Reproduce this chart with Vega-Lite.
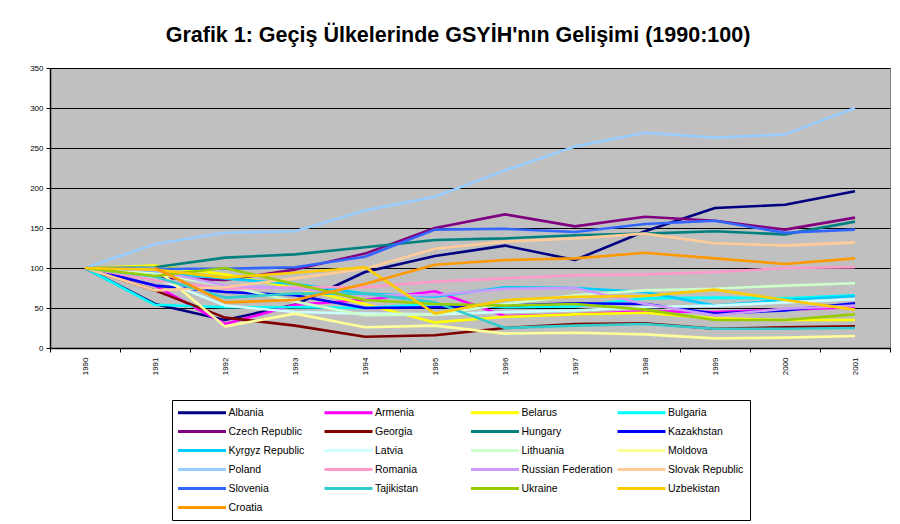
{
 "$schema": "https://vega.github.io/schema/vega-lite/v6.json",
 "width": 840, "height": 280,
 "autosize": {"type": "none"},
 "padding": {"left": 50, "top": 68, "right": 10, "bottom": 176},
 "background": "white",
 "title": {"text": "Grafik 1: Geçiş Ülkelerinde GSYİH'nın Gelişimi (1990:100)", "font": "Liberation Sans", "fontSize": 21.5, "fontWeight": "bold", "color": "black", "anchor": "middle", "dx": -12, "offset": 18},
 "data": {"values": [
{"c":"Albania","y":"1990","v":100},{"c":"Albania","y":"1991","v":55},{"c":"Albania","y":"1992","v":35},{"c":"Albania","y":"1993","v":54},{"c":"Albania","y":"1994","v":95},{"c":"Albania","y":"1995","v":115},{"c":"Albania","y":"1996","v":128},{"c":"Albania","y":"1997","v":110},{"c":"Albania","y":"1998","v":146},{"c":"Albania","y":"1999","v":175},{"c":"Albania","y":"2000","v":179},{"c":"Albania","y":"2001","v":196},
{"c":"Armenia","y":"1990","v":100},{"c":"Armenia","y":"1991","v":78},{"c":"Armenia","y":"1992","v":30},{"c":"Armenia","y":"1993","v":54},{"c":"Armenia","y":"1994","v":60},{"c":"Armenia","y":"1995","v":71},{"c":"Armenia","y":"1996","v":40},{"c":"Armenia","y":"1997","v":42},{"c":"Armenia","y":"1998","v":46},{"c":"Armenia","y":"1999","v":45},{"c":"Armenia","y":"2000","v":48},{"c":"Armenia","y":"2001","v":51},
{"c":"Belarus","y":"1990","v":100},{"c":"Belarus","y":"1991","v":103},{"c":"Belarus","y":"1992","v":92},{"c":"Belarus","y":"1993","v":75},{"c":"Belarus","y":"1994","v":55},{"c":"Belarus","y":"1995","v":32},{"c":"Belarus","y":"1996","v":39},{"c":"Belarus","y":"1997","v":42},{"c":"Belarus","y":"1998","v":44},{"c":"Belarus","y":"1999","v":37},{"c":"Belarus","y":"2000","v":35},{"c":"Belarus","y":"2001","v":35},
{"c":"Bulgaria","y":"1990","v":100},{"c":"Bulgaria","y":"1991","v":54},{"c":"Bulgaria","y":"1992","v":51},{"c":"Bulgaria","y":"1993","v":51},{"c":"Bulgaria","y":"1994","v":50},{"c":"Bulgaria","y":"1995","v":55},{"c":"Bulgaria","y":"1996","v":51},{"c":"Bulgaria","y":"1997","v":52},{"c":"Bulgaria","y":"1998","v":62},{"c":"Bulgaria","y":"1999","v":63},{"c":"Bulgaria","y":"2000","v":62},{"c":"Bulgaria","y":"2001","v":66},
{"c":"Czech Republic","y":"1990","v":100},{"c":"Czech Republic","y":"1991","v":88},{"c":"Czech Republic","y":"1992","v":85},{"c":"Czech Republic","y":"1993","v":98},{"c":"Czech Republic","y":"1994","v":118},{"c":"Czech Republic","y":"1995","v":150},{"c":"Czech Republic","y":"1996","v":167},{"c":"Czech Republic","y":"1997","v":152},{"c":"Czech Republic","y":"1998","v":164},{"c":"Czech Republic","y":"1999","v":159},{"c":"Czech Republic","y":"2000","v":148},{"c":"Czech Republic","y":"2001","v":163},
{"c":"Georgia","y":"1990","v":100},{"c":"Georgia","y":"1991","v":72},{"c":"Georgia","y":"1992","v":38},{"c":"Georgia","y":"1993","v":28},{"c":"Georgia","y":"1994","v":14},{"c":"Georgia","y":"1995","v":16},{"c":"Georgia","y":"1996","v":25},{"c":"Georgia","y":"1997","v":30},{"c":"Georgia","y":"1998","v":31},{"c":"Georgia","y":"1999","v":24},{"c":"Georgia","y":"2000","v":26},{"c":"Georgia","y":"2001","v":27},
{"c":"Hungary","y":"1990","v":100},{"c":"Hungary","y":"1991","v":101},{"c":"Hungary","y":"1992","v":113},{"c":"Hungary","y":"1993","v":117},{"c":"Hungary","y":"1994","v":126},{"c":"Hungary","y":"1995","v":135},{"c":"Hungary","y":"1996","v":137},{"c":"Hungary","y":"1997","v":141},{"c":"Hungary","y":"1998","v":143},{"c":"Hungary","y":"1999","v":146},{"c":"Hungary","y":"2000","v":142},{"c":"Hungary","y":"2001","v":158},
{"c":"Kazakhstan","y":"1990","v":100},{"c":"Kazakhstan","y":"1991","v":78},{"c":"Kazakhstan","y":"1992","v":70},{"c":"Kazakhstan","y":"1993","v":66},{"c":"Kazakhstan","y":"1994","v":50},{"c":"Kazakhstan","y":"1995","v":51},{"c":"Kazakhstan","y":"1996","v":53},{"c":"Kazakhstan","y":"1997","v":56},{"c":"Kazakhstan","y":"1998","v":55},{"c":"Kazakhstan","y":"1999","v":43},{"c":"Kazakhstan","y":"2000","v":47},{"c":"Kazakhstan","y":"2001","v":56},
{"c":"Kyrgyz Republic","y":"1990","v":100},{"c":"Kyrgyz Republic","y":"1991","v":95},{"c":"Kyrgyz Republic","y":"1992","v":87},{"c":"Kyrgyz Republic","y":"1993","v":80},{"c":"Kyrgyz Republic","y":"1994","v":68},{"c":"Kyrgyz Republic","y":"1995","v":64},{"c":"Kyrgyz Republic","y":"1996","v":76},{"c":"Kyrgyz Republic","y":"1997","v":75},{"c":"Kyrgyz Republic","y":"1998","v":70},{"c":"Kyrgyz Republic","y":"1999","v":53},{"c":"Kyrgyz Republic","y":"2000","v":60},{"c":"Kyrgyz Republic","y":"2001","v":65},
{"c":"Latvia","y":"1990","v":100},{"c":"Latvia","y":"1991","v":88},{"c":"Latvia","y":"1992","v":53},{"c":"Latvia","y":"1993","v":45},{"c":"Latvia","y":"1994","v":43},{"c":"Latvia","y":"1995","v":42},{"c":"Latvia","y":"1996","v":45},{"c":"Latvia","y":"1997","v":47},{"c":"Latvia","y":"1998","v":51},{"c":"Latvia","y":"1999","v":53},{"c":"Latvia","y":"2000","v":57},{"c":"Latvia","y":"2001","v":61},
{"c":"Lithuania","y":"1990","v":100},{"c":"Lithuania","y":"1991","v":93},{"c":"Lithuania","y":"1992","v":78},{"c":"Lithuania","y":"1993","v":58},{"c":"Lithuania","y":"1994","v":41},{"c":"Lithuania","y":"1995","v":42},{"c":"Lithuania","y":"1996","v":55},{"c":"Lithuania","y":"1997","v":66},{"c":"Lithuania","y":"1998","v":72},{"c":"Lithuania","y":"1999","v":74},{"c":"Lithuania","y":"2000","v":78},{"c":"Lithuania","y":"2001","v":81},
{"c":"Moldova","y":"1990","v":100},{"c":"Moldova","y":"1991","v":100},{"c":"Moldova","y":"1992","v":27},{"c":"Moldova","y":"1993","v":43},{"c":"Moldova","y":"1994","v":26},{"c":"Moldova","y":"1995","v":28},{"c":"Moldova","y":"1996","v":18},{"c":"Moldova","y":"1997","v":19},{"c":"Moldova","y":"1998","v":17},{"c":"Moldova","y":"1999","v":12},{"c":"Moldova","y":"2000","v":13},{"c":"Moldova","y":"2001","v":15},
{"c":"Poland","y":"1990","v":100},{"c":"Poland","y":"1991","v":130},{"c":"Poland","y":"1992","v":144},{"c":"Poland","y":"1993","v":146},{"c":"Poland","y":"1994","v":172},{"c":"Poland","y":"1995","v":189},{"c":"Poland","y":"1996","v":222},{"c":"Poland","y":"1997","v":252},{"c":"Poland","y":"1998","v":269},{"c":"Poland","y":"1999","v":263},{"c":"Poland","y":"2000","v":267},{"c":"Poland","y":"2001","v":300},
{"c":"Romania","y":"1990","v":100},{"c":"Romania","y":"1991","v":85},{"c":"Romania","y":"1992","v":74},{"c":"Romania","y":"1993","v":76},{"c":"Romania","y":"1994","v":76},{"c":"Romania","y":"1995","v":83},{"c":"Romania","y":"1996","v":87},{"c":"Romania","y":"1997","v":91},{"c":"Romania","y":"1998","v":92},{"c":"Romania","y":"1999","v":95},{"c":"Romania","y":"2000","v":100},{"c":"Romania","y":"2001","v":101},
{"c":"Russian Federation","y":"1990","v":100},{"c":"Russian Federation","y":"1991","v":97},{"c":"Russian Federation","y":"1992","v":78},{"c":"Russian Federation","y":"1993","v":74},{"c":"Russian Federation","y":"1994","v":66},{"c":"Russian Federation","y":"1995","v":66},{"c":"Russian Federation","y":"1996","v":74},{"c":"Russian Federation","y":"1997","v":75},{"c":"Russian Federation","y":"1998","v":55},{"c":"Russian Federation","y":"1999","v":41},{"c":"Russian Federation","y":"2000","v":49},{"c":"Russian Federation","y":"2001","v":53},
{"c":"Slovak Republic","y":"1990","v":100},{"c":"Slovak Republic","y":"1991","v":72},{"c":"Slovak Republic","y":"1992","v":76},{"c":"Slovak Republic","y":"1993","v":87},{"c":"Slovak Republic","y":"1994","v":99},{"c":"Slovak Republic","y":"1995","v":124},{"c":"Slovak Republic","y":"1996","v":133},{"c":"Slovak Republic","y":"1997","v":137},{"c":"Slovak Republic","y":"1998","v":143},{"c":"Slovak Republic","y":"1999","v":131},{"c":"Slovak Republic","y":"2000","v":128},{"c":"Slovak Republic","y":"2001","v":132},
{"c":"Slovenia","y":"1990","v":100},{"c":"Slovenia","y":"1991","v":99},{"c":"Slovenia","y":"1992","v":99},{"c":"Slovenia","y":"1993","v":101},{"c":"Slovenia","y":"1994","v":114},{"c":"Slovenia","y":"1995","v":148},{"c":"Slovenia","y":"1996","v":149},{"c":"Slovenia","y":"1997","v":145},{"c":"Slovenia","y":"1998","v":155},{"c":"Slovenia","y":"1999","v":159},{"c":"Slovenia","y":"2000","v":144},{"c":"Slovenia","y":"2001","v":148},
{"c":"Tajikistan","y":"1990","v":100},{"c":"Tajikistan","y":"1991","v":89},{"c":"Tajikistan","y":"1992","v":63},{"c":"Tajikistan","y":"1993","v":68},{"c":"Tajikistan","y":"1994","v":68},{"c":"Tajikistan","y":"1995","v":57},{"c":"Tajikistan","y":"1996","v":25},{"c":"Tajikistan","y":"1997","v":28},{"c":"Tajikistan","y":"1998","v":30},{"c":"Tajikistan","y":"1999","v":24},{"c":"Tajikistan","y":"2000","v":24},{"c":"Tajikistan","y":"2001","v":25},
{"c":"Ukraine","y":"1990","v":100},{"c":"Ukraine","y":"1991","v":90},{"c":"Ukraine","y":"1992","v":100},{"c":"Ukraine","y":"1993","v":80},{"c":"Ukraine","y":"1994","v":60},{"c":"Ukraine","y":"1995","v":55},{"c":"Ukraine","y":"1996","v":53},{"c":"Ukraine","y":"1997","v":55},{"c":"Ukraine","y":"1998","v":48},{"c":"Ukraine","y":"1999","v":35},{"c":"Ukraine","y":"2000","v":35},{"c":"Ukraine","y":"2001","v":42},
{"c":"Uzbekistan","y":"1990","v":100},{"c":"Uzbekistan","y":"1991","v":98},{"c":"Uzbekistan","y":"1992","v":88},{"c":"Uzbekistan","y":"1993","v":94},{"c":"Uzbekistan","y":"1994","v":101},{"c":"Uzbekistan","y":"1995","v":43},{"c":"Uzbekistan","y":"1996","v":60},{"c":"Uzbekistan","y":"1997","v":64},{"c":"Uzbekistan","y":"1998","v":65},{"c":"Uzbekistan","y":"1999","v":73},{"c":"Uzbekistan","y":"2000","v":60},{"c":"Uzbekistan","y":"2001","v":48},
{"c":"Croatia","y":"1991","v":100},{"c":"Croatia","y":"1992","v":57},{"c":"Croatia","y":"1993","v":60},{"c":"Croatia","y":"1994","v":80},{"c":"Croatia","y":"1995","v":104},{"c":"Croatia","y":"1996","v":110},{"c":"Croatia","y":"1997","v":112},{"c":"Croatia","y":"1998","v":119},{"c":"Croatia","y":"1999","v":112},{"c":"Croatia","y":"2000","v":105},{"c":"Croatia","y":"2001","v":112}
 ]},
 "mark": {"type": "line", "strokeWidth": 2.6, "strokeJoin": "round"},
 "encoding": {
  "x": {"field": "y", "type": "ordinal", "bandPosition": 0.5,
        "scale": {"type": "band", "paddingInner": 0, "paddingOuter": 0,
                  "domain": ["1990","1991","1992","1993","1994","1995","1996","1997","1998","1999","2000","2001"]},
        "axis": {"title": null, "labelAngle": -90, "labelFont": "Liberation Sans", "labelFontSize": 8, "labelColor": "black",
                 "tickBand": "extent", "tickColor": "black", "tickSize": 4, "domainColor": "black", "domainWidth": 1.5, "labelPadding": 5, "grid": false}},
  "y": {"field": "v", "type": "quantitative",
        "scale": {"domain": [0, 350], "nice": false, "zero": true},
        "axis": {"title": null, "values": [0,50,100,150,200,250,300,350], "labelFont": "Liberation Sans", "labelFontSize": 8, "labelColor": "black",
                 "tickColor": "black", "tickSize": 4, "domainColor": "black", "domainWidth": 1.5, "labelPadding": 3,
                 "grid": true, "gridColor": "black", "gridWidth": 1}},
  "color": {"field": "c", "type": "nominal",
   "scale": {"domain": ["Albania","Armenia","Belarus","Bulgaria","Czech Republic","Georgia","Hungary","Kazakhstan","Kyrgyz Republic","Latvia","Lithuania","Moldova","Poland","Romania","Russian Federation","Slovak Republic","Slovenia","Tajikistan","Ukraine","Uzbekistan","Croatia"],
             "range": ["#000080","#FF00FF","#FFFF00","#00FFFF","#800080","#800000","#008080","#0000FF","#00CCFF","#CCFFFF","#CCFFCC","#FFFF99","#99CCFF","#FF99CC","#CC99FF","#FFCC99","#3366FF","#33CCCC","#99CC00","#FFCC00","#FF9900"]},
   "legend": {"orient": "none", "legendX": 122, "legendY": 332, "columns": 4, "direction": "horizontal", "title": null,
              "symbolType": "M-4.8,0H4.8", "symbolSize": 100, "symbolStrokeWidth": 3, "symbolOffset": 17.5,
              "labelFont": "Liberation Sans", "labelFontSize": 10.5, "labelColor": "black", "labelOffset": 20, "labelLimit": 0,
              "columnPadding": -1.5, "rowPadding": 6, "gridAlign": "all",
              "strokeColor": "black", "fillColor": "white", "padding": 6}}
 },
 "config": {"view": {"fill": "#C0C0C0", "stroke": "#808080"}}
}
